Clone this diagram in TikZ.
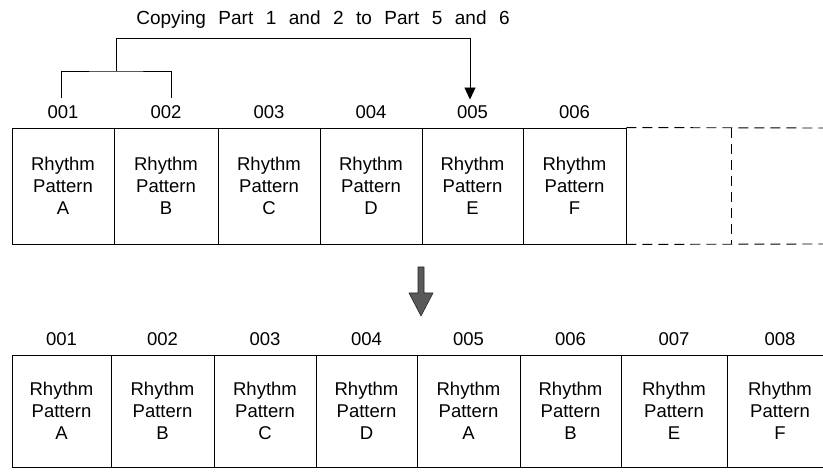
\documentclass[tikz,border=0pt]{standalone}
\usepackage{fontspec}
\setmainfont{Liberation Sans}
\usetikzlibrary{arrows.meta}
\begin{document}
\begin{tikzpicture}[x=1pt,y=-1pt,
  line width=0.9pt,
  cell/.style={draw, line width=0.9pt, inner sep=0pt, align=center,
    font=\fontsize{18.5}{22}\selectfont},
  toprow/.style={cell, minimum height=116pt},
  botrow/.style={cell, minimum height=112pt},
  num/.style={font=\fontsize{18.5}{22}\selectfont, inner sep=0pt, above=8pt},
  ext/.style={line width=0.9pt, dash pattern=on 10pt off 6pt},
  bigarrow/.style={fill=black!65, draw=black!85, line width=0.6pt},
]
\useasboundingbox (0,0) rectangle (823,473);
\clip (0,0) rectangle (823,473);

% title
\node[font=\fontsize{19}{22}\selectfont, inner sep=0pt] (title) at (323,20)
  {{\spaceskip=12.5pt Copying Part 1 and 2 to Part 5 and 6}};

% top row
\node[toprow, minimum width=102pt] (t1) at (63,186)    {Rhythm\\Pattern\\A};
\node[toprow, minimum width=104pt] (t2) at (166,186)   {Rhythm\\Pattern\\B};
\node[toprow, minimum width=102pt] (t3) at (269,186)   {Rhythm\\Pattern\\C};
\node[toprow, minimum width=102pt] (t4) at (371,186)   {Rhythm\\Pattern\\D};
\node[toprow, minimum width=101pt] (t5) at (472.5,186) {Rhythm\\Pattern\\E};
\node[toprow, minimum width=103pt] (t6) at (574.5,186) {Rhythm\\Pattern\\F};

\node[num] (n1) at (t1.north) {001};
\node[num] (n2) at (t2.north) {002};
\node[num] (n3) at (t3.north) {003};
\node[num] (n4) at (t4.north) {004};
\node[num] (n5) at (t5.north) {005};
\node[num] (n6) at (t6.north) {006};

% dashed extension
\coordinate (et) at (823,128);
\coordinate (eb) at (823,244);
\coordinate (dv) at (731,128);
\draw[ext] (t6.north east) -- (et);
\draw[ext] (t6.south east) -- (eb);
\draw[ext] (dv) -- (dv |- eb);

% copy bracket
\coordinate (s1) at ([xshift=-2pt,yshift=8pt]n1.north);
\coordinate (s2) at ([xshift=5pt,yshift=8pt]n2.north);
\coordinate (jn) at (116,71);
\coordinate (tp) at (470,38);
\draw (s1) |- (jn) -| (s2);
\draw[-{Triangle[width=11pt,length=12pt]}] (jn) |- (tp) -- ([yshift=6pt]n5.north -| tp);

% big down arrow
\coordinate (ba) at (421,267);
\draw[bigarrow] (ba) ++(-3,0) -- ++(0,26) -- ++(-9,0) -- (421,316) -- (433,293) -- ++(-9,0) -- ++(0,-26) -- cycle;

% bottom row
\node[botrow, minimum width=99pt]  (b1) at (61.5,411)  {Rhythm\\Pattern\\A};
\node[botrow, minimum width=103pt] (b2) at (162.5,411) {Rhythm\\Pattern\\B};
\node[botrow, minimum width=102pt] (b3) at (265,411)   {Rhythm\\Pattern\\C};
\node[botrow, minimum width=101pt] (b4) at (366.5,411) {Rhythm\\Pattern\\D};
\node[botrow, minimum width=103pt] (b5) at (468.5,411) {Rhythm\\Pattern\\A};
\node[botrow, minimum width=101pt] (b6) at (570.5,411) {Rhythm\\Pattern\\B};
\node[botrow, minimum width=106pt] (b7) at (674,411)   {Rhythm\\Pattern\\E};
\node[botrow, minimum width=106pt] (b8) at (780,411)   {Rhythm\\Pattern\\F};

\node[num] (m1) at (b1.north) {001};
\node[num] (m2) at (b2.north) {002};
\node[num] (m3) at (b3.north) {003};
\node[num] (m4) at (b4.north) {004};
\node[num] (m5) at (b5.north) {005};
\node[num] (m6) at (b6.north) {006};
\node[num] (m7) at (b7.north) {007};
\node[num] (m8) at (b8.north) {008};
\end{tikzpicture}
\end{document}
